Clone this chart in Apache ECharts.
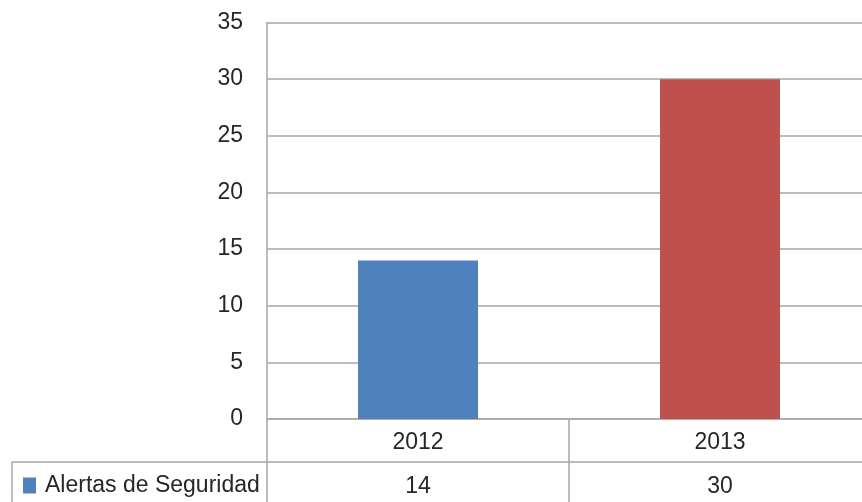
<!DOCTYPE html>
<html>
<head>
<meta charset="utf-8">
<script src="https://cdn.jsdelivr.net/npm/echarts@6/dist/echarts.min.js"></script>
<style>
  html, body { margin: 0; padding: 0; background: #fff; }
  #chart { width: 862px; height: 502px; }
</style>
</head>
<body>
<div id="chart"></div>
<script>
const categories = ["2012", "2013"];
const seriesName = "Alertas de Seguridad";
const values = [14, 30];
const yTicks = [0, 5, 10, 15, 20, 25, 30, 35];
const barColors = ["#4F81BD", "#C0504D"];

const FONT = "Liberation Sans";
const TEXT = "#262626";
const LINE = "#A6A6A6";

const chart = echarts.init(document.getElementById("chart"));

function render() {
  chart.setOption({
    animation: false,
    textStyle: { fontFamily: FONT },
    grid: { left: 267, top: 22.5, width: 604, height: 396.5, outerBoundsMode: "none", containLabel: false },
    legend: {
      data: [seriesName],
      left: 23,
      top: 474,
      padding: 0,
      icon: "rect",
      itemWidth: 13,
      itemHeight: 16,
      itemGap: 0,
      textStyle: { fontFamily: FONT, fontSize: 23, color: TEXT, padding: [0, 0, 0, 4] },
      selectedMode: false
    },
    xAxis: [
      {
        type: "category",
        data: categories,
        axisLine: { show: true, lineStyle: { color: LINE, width: 1.5 } },
        axisTick: { show: true, length: 83, lineStyle: { color: LINE, width: 1.5 } },
        axisLabel: { fontSize: 23, color: TEXT, margin: 12 },
        splitLine: { show: false }
      },
      {
        type: "category",
        data: categories,
        position: "bottom",
        offset: 43,
        axisLine: { show: true, lineStyle: { color: LINE, width: 1.5 } },
        axisTick: { show: false },
        axisLabel: {
          fontSize: 23, color: TEXT, margin: 13,
          formatter: (v, i) => String(values[i])
        }
      }
    ],
    yAxis: {
      type: "value",
      min: yTicks[0],
      max: yTicks[yTicks.length - 1],
      interval: 5,
      axisLine: { show: true, lineStyle: { color: LINE, width: 1.5 } },
      axisTick: { show: false },
      axisLabel: { fontSize: 23, color: TEXT, margin: 24, padding: [5, 0, 0, 0] },
      splitLine: { show: true, lineStyle: { color: LINE, width: 1.5 } }
    },
    series: [{
      name: seriesName,
      type: "bar",
      barWidth: 120,
      itemStyle: { color: barColors[0] },
      data: values.map((v, i) => ({ value: v, itemStyle: { color: barColors[i] } }))
    }]
  }, true);

  // table border around the legend cell, tied to axis positions
  const zeroY = chart.convertToPixel({ yAxisIndex: 0 }, 0);
  const axisX = chart.convertToPixel({ xAxisIndex: 0 }, 0) - 151;
  const rowY = zeroY + 43;
  chart.setOption({
    graphic: [
      { type: "line", shape: { x1: 12, y1: rowY, x2: axisX, y2: rowY }, style: { stroke: LINE, lineWidth: 1.5 } },
      { type: "line", shape: { x1: 12, y1: rowY, x2: 12, y2: 502 }, style: { stroke: LINE, lineWidth: 1.5 } }
    ]
  });
}
render();
window.addEventListener("resize", () => { chart.resize(); render(); });
</script>
</body>
</html>
